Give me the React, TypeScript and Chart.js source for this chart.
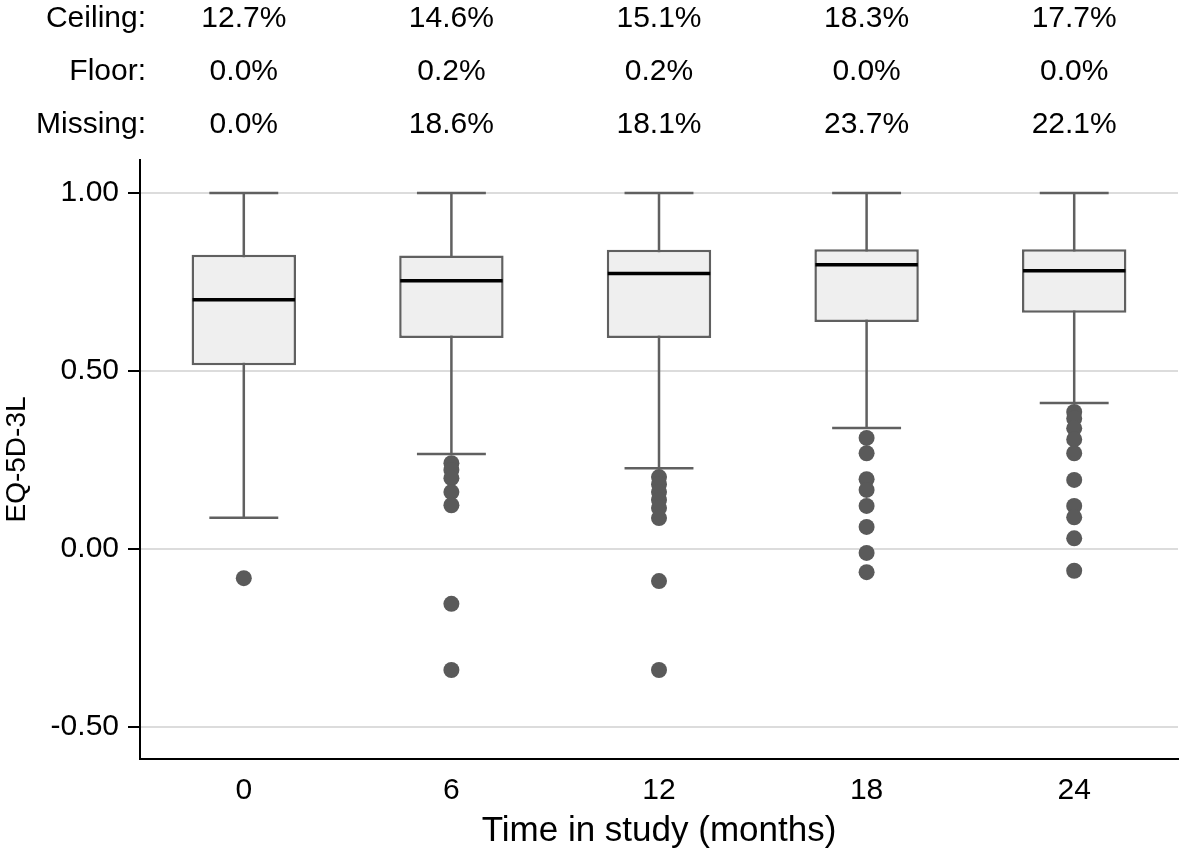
import React, { useEffect, useRef } from 'react';
import { Chart, registerables } from 'chart.js';

Chart.register(...registerables);

const CATEGORIES = ['0', '6', '12', '18', '24'];
const WHISKER_HIGH = [1.0, 1.0, 1.0, 1.0, 1.0];
const Q3 = [0.827, 0.825, 0.841, 0.842, 0.842];
const MEDIAN = [0.7, 0.754, 0.774, 0.799, 0.782];
const Q1 = [0.516, 0.593, 0.593, 0.638, 0.664];
const WHISKER_LOW = [0.088, 0.267, 0.227, 0.34, 0.41];

const OUTLIERS_0 = [-0.082];
const OUTLIERS_6 = [0.241, 0.222, 0.199, 0.16, 0.123, -0.154, -0.34];
const OUTLIERS_12 = [0.202, 0.182, 0.16, 0.138, 0.115, 0.087, -0.09, -0.34];
const OUTLIERS_18 = [0.312, 0.269, 0.196, 0.166, 0.121, 0.062, -0.011, -0.065];
const OUTLIERS_24 = [0.385, 0.367, 0.339, 0.308, 0.269, 0.194, 0.121, 0.089, 0.03, -0.061];

const CEILING = ['12.7%', '14.6%', '15.1%', '18.3%', '17.7%'];
const FLOOR = ['0.0%', '0.2%', '0.2%', '0.0%', '0.0%'];
const MISSING = ['0.0%', '18.6%', '18.1%', '23.7%', '22.1%'];
const ROW_LABELS = ['Ceiling:', 'Floor:', 'Missing:'];

const Y_TICKS = [-0.5, 0, 0.5, 1.0];
const Y_MIN = -0.59;
const Y_MAX = 1.093;

const FONT = "Arial, 'Liberation Sans', Helvetica, sans-serif";
const BOX_LINE = '#606060';
const BOX_FILL = '#efefef';
const DOT = '#5a5a5a';

const boxPlugin = {
  id: 'boxWhiskers',
  beforeDatasetsDraw(chart: any) {
    const ctx = chart.ctx;
    const y = chart.scales.y;
    const meta = chart.getDatasetMeta(0);
    ctx.save();
    ctx.strokeStyle = BOX_LINE;
    ctx.lineWidth = 2.5;
    meta.data.forEach((bar: any, i: number) => {
      const cx = bar.x;
      const capHalf = bar.width * 0.33;
      const yHi = y.getPixelForValue(WHISKER_HIGH[i]);
      const yLo = y.getPixelForValue(WHISKER_LOW[i]);
      ctx.beginPath();
      ctx.moveTo(cx, yHi);
      ctx.lineTo(cx, yLo);
      ctx.moveTo(cx - capHalf, yHi);
      ctx.lineTo(cx + capHalf, yHi);
      ctx.moveTo(cx - capHalf, yLo);
      ctx.lineTo(cx + capHalf, yLo);
      ctx.stroke();
    });
    ctx.restore();
  },
  afterDatasetsDraw(chart: any) {
    const ctx = chart.ctx;
    const y = chart.scales.y;
    const meta = chart.getDatasetMeta(0);
    ctx.save();
    ctx.strokeStyle = '#000000';
    ctx.lineWidth = 3.5;
    meta.data.forEach((bar: any, i: number) => {
      const half = bar.width / 2 - 1;
      const ym = y.getPixelForValue(MEDIAN[i]);
      ctx.beginPath();
      ctx.moveTo(bar.x - half, ym);
      ctx.lineTo(bar.x + half, ym);
      ctx.stroke();
    });
    ctx.restore();
  },
  afterDraw(chart: any) {
    const ctx = chart.ctx;
    const x = chart.scales.x;
    const rows = [CEILING, FLOOR, MISSING];
    const baselines = [27, 80, 133];
    ctx.save();
    ctx.fillStyle = '#000000';
    ctx.font = `30px ${FONT}`;
    ctx.textBaseline = 'alphabetic';
    rows.forEach((row, r) => {
      ctx.textAlign = 'right';
      ctx.fillText(ROW_LABELS[r], 146, baselines[r]);
      ctx.textAlign = 'center';
      row.forEach((txt, i) => {
        ctx.fillText(txt, x.getPixelForValue(i), baselines[r]);
      });
    });
    ctx.restore();
  },
};

export default function App() {
  const canvasRef = useRef<HTMLCanvasElement | null>(null);

  useEffect(() => {
    const canvas = canvasRef.current;
    if (!canvas) return;
    const outlierSets = [OUTLIERS_0, OUTLIERS_6, OUTLIERS_12, OUTLIERS_18, OUTLIERS_24];
    const outlierPoints: { x: string; y: number }[] = [];
    outlierSets.forEach((set, i) => {
      set.forEach((v) => outlierPoints.push({ x: CATEGORIES[i], y: v }));
    });

    const chart = new Chart(canvas, {
      type: 'bar',
      data: {
        labels: CATEGORIES,
        datasets: [
          {
            type: 'bar',
            label: 'IQR',
            data: CATEGORIES.map((_, i) => [Q1[i], Q3[i]]) as any,
            backgroundColor: BOX_FILL,
            borderColor: BOX_LINE,
            borderWidth: 2.5,
            borderSkipped: false,
            categoryPercentage: 1,
            barPercentage: 0.503,
            order: 2,
          } as any,
          {
            type: 'scatter',
            label: 'Outliers',
            data: outlierPoints as any,
            backgroundColor: DOT,
            borderColor: DOT,
            borderWidth: 0,
            pointRadius: 8,
            order: 1,
          } as any,
        ],
      },
      plugins: [boxPlugin],
      options: {
        animation: false,
        responsive: false,
        maintainAspectRatio: false,
        layout: { autoPadding: false, padding: { top: 160, right: 3, left: 0, bottom: 0 } },
        plugins: {
          legend: { display: false },
          tooltip: { enabled: false },
        },
        scales: {
          x: {
            type: 'category',
            offset: true,
            grid: { display: false, drawTicks: false },
            border: { display: true, color: '#000000', width: 2 },
            ticks: {
              color: '#000000',
              font: { family: FONT, size: 30 },
              padding: 14,
            },
            title: {
              display: true,
              text: 'Time in study (months)',
              color: '#000000',
              font: { family: FONT, size: 35 },
              padding: { top: 0, bottom: 3 },
            },
            afterFit(scale: any) {
              scale.height = 96;
              scale.paddingLeft = 0;
              scale.paddingRight = 0;
            },
          },
          y: {
            type: 'linear',
            min: Y_MIN,
            max: Y_MAX,
            afterBuildTicks(scale: any) {
              scale.ticks = Y_TICKS.map((v) => ({ value: v }));
            },
            grid: {
              color: '#dcdcdc',
              lineWidth: 2,
              tickColor: '#000000',
              tickLength: 12,
              tickWidth: 2,
            },
            border: { display: true, color: '#000000', width: 2 },
            ticks: {
              color: '#000000',
              font: { family: FONT, size: 30 },
              padding: 9,
              callback: (v: any) => Number(v).toFixed(2),
            },
            title: {
              display: true,
              text: 'EQ-5D-3L',
              color: '#000000',
              font: { family: FONT, size: 28 },
              padding: { top: 0, bottom: 0 },
            },
            afterFit(scale: any) {
              scale.width = 140;
            },
          },
        },
      } as any,
    });
    return () => chart.destroy();
  }, []);

  return (
    <div style={{ position: 'absolute', left: 0, top: 0, width: 1181, height: 855, background: '#ffffff' }}>
      <canvas ref={canvasRef} width={1181} height={855} style={{ display: 'block', width: 1181, height: 855 }} />
    </div>
  );
}
